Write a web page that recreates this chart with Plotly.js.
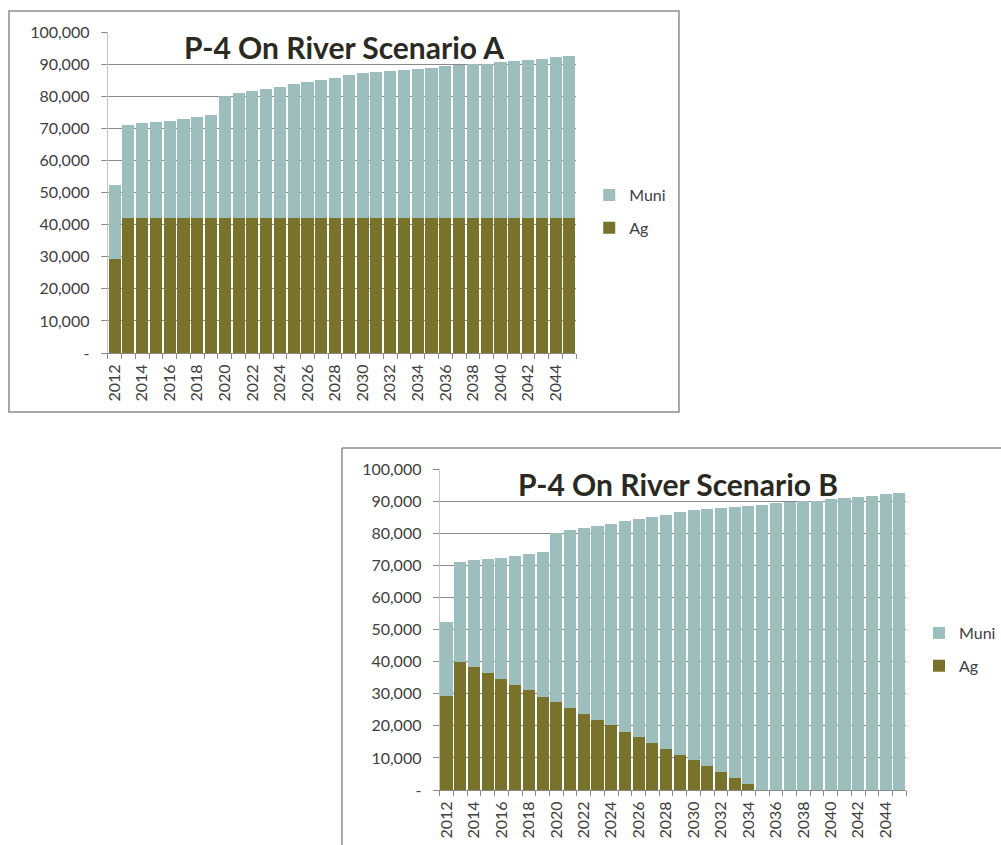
<!DOCTYPE html>
<html>
<head>
<meta charset="utf-8">
<script src="https://cdn.plot.ly/plotly-3.0.1.min.js"></script>
<style>html,body{margin:0;padding:0;background:#fff;}#chart{width:1001px;height:845px;}</style>
</head>
<body>
<div id="chart"></div>
<script>
// ---- data ----
const years = [2012,2013,2014,2015,2016,2017,2018,2019,2020,2021,2022,2023,2024,2025,2026,2027,2028,2029,2030,2031,2032,2033,2034,2035,2036,2037,2038,2039,2040,2041,2042,2043,2044,2045];
const tickYears = [2012,2014,2016,2018,2020,2022,2024,2026,2028,2030,2032,2034,2036,2038,2040,2042,2044];

const agA = [29300,42000,42000,42000,42000,42000,42000,42000,42000,42000,42000,42000,42000,42000,42000,42000,42000,42000,42000,42000,42000,42000,42000,42000,42000,42000,42000,42000,42000,42000,42000,42000,42000,42000];
const muniA = [23000,28900,29500,30000,30400,30800,31500,32000,38000,39000,39500,40300,41000,41800,42300,43100,43700,44600,45200,45500,45700,46200,46600,46900,47400,47700,48000,48100,48700,49100,49300,49600,50200,50500];

const agB = [29300,39900,38200,36300,34700,32600,31000,29100,27400,25400,23700,21800,20100,18100,16500,14600,12800,10900,9300,7400,5600,3700,1900,0,0,0,0,0,0,0,0,0,0,0];
const muniB = [23000,31000,33300,35700,37700,40200,42500,44900,52600,55600,57800,60500,62900,65700,67800,70500,72900,75700,77900,80100,82100,84500,86700,88900,89400,89700,90000,90100,90700,91100,91300,91600,92200,92500];

const yTickVals = [0,10000,20000,30000,40000,50000,60000,70000,80000,90000,100000];
const yTickText = ['-','10,000','20,000','30,000','40,000','50,000','60,000','70,000','80,000','90,000','100,000'];

const titleA = 'P-4 On River Scenario A';
const titleB = 'P-4 On River Scenario B';

// ---- styles ----
const W = 1001, H = 845;
const FONT = 'Lato, "Open Sans", sans-serif';
const TXT = '#404040';
const MUNI_C = '#9CBEBD';
const AG_C = '#78722A';
const px = v => v / W;
const py = v => 1 - v / H;

function xAxis(x0, x1, anchor) {
  return {
    domain: [px(x0), px(x1)], anchor: anchor,
    range: [2011.5, 2045.5], tickmode: 'array', tickvals: tickYears,
    ticktext: tickYears.map(String), tickangle: -90,
    ticks: '', showgrid: false, zeroline: false,
    showline: true, linecolor: '#8a8a8a', linewidth: 1,
    tickfont: {family: FONT, size: 16, color: TXT},
    ticklabelstandoff: 4,
    minor: {tickmode: 'linear', tick0: 2011.5, dtick: 1, ticks: 'outside', ticklen: 5, tickcolor: '#8a8a8a', tickwidth: 1, showgrid: false},
    fixedrange: true
  };
}
function yAxis(yTop, yBot, anchor) {
  return {
    domain: [py(yBot), py(yTop)], anchor: anchor,
    range: [0, 100000], tickmode: 'array', tickvals: yTickVals, ticktext: yTickText,
    ticks: 'outside', ticklen: 6, tickcolor: '#8a8a8a', tickwidth: 1,
    showgrid: true, gridcolor: '#8a8a8a', gridwidth: 1,
    zeroline: false, showline: true, linecolor: '#c4c4c4', linewidth: 1,
    tickfont: {family: FONT, size: 16, color: TXT},
    ticklabelstandoff: 8,
    fixedrange: true
  };
}

const traces = [
  {type: 'bar', x: years, y: agA, name: 'Ag', xaxis: 'x', yaxis: 'y', legend: 'legend', legendgroup: 'a1', legendrank: 2, marker: {color: AG_C}},
  {type: 'bar', x: years, y: muniA, name: 'Muni', xaxis: 'x', yaxis: 'y', legend: 'legend', legendgroup: 'a2', legendrank: 1, marker: {color: MUNI_C}},
  {type: 'bar', x: years, y: agB, name: 'Ag', xaxis: 'x2', yaxis: 'y2', legend: 'legend2', legendgroup: 'b1', legendrank: 2, marker: {color: AG_C}},
  {type: 'bar', x: years, y: muniB, name: 'Muni', xaxis: 'x2', yaxis: 'y2', legend: 'legend2', legendgroup: 'b2', legendrank: 1, marker: {color: MUNI_C}}
];

const legendBase = {
  traceorder: 'grouped', tracegroupgap: 9,
  font: {family: FONT, size: 16, color: TXT},
  bgcolor: 'rgba(0,0,0,0)', xanchor: 'left', yanchor: 'top',
  itemclick: false, itemdoubleclick: false
};

const layout = {
  width: W, height: H,
  margin: {l: 0, r: 0, t: 0, b: 0},
  paper_bgcolor: '#ffffff', plot_bgcolor: 'rgba(0,0,0,0)',
  barmode: 'stack', bargap: 0.12,
  showlegend: true,
  xaxis: xAxis(108, 578, 'y'),
  yaxis: yAxis(32, 353, 'x'),
  xaxis2: xAxis(441, 909, 'y2'),
  yaxis2: yAxis(469, 790, 'x2'),
  legend: Object.assign({}, legendBase, {x: px(591), y: py(178)}),
  legend2: Object.assign({}, legendBase, {x: px(922), y: py(616)}),
  annotations: [
    {text: '<b>' + titleA + '</b>', xref: 'paper', yref: 'paper', x: px(345), y: py(47), xanchor: 'center', yanchor: 'middle', showarrow: false, font: {family: FONT, size: 30, color: '#2b2a22'}},
    {text: '<b>' + titleB + '</b>', xref: 'paper', yref: 'paper', x: px(680), y: py(484), xanchor: 'center', yanchor: 'middle', showarrow: false, font: {family: FONT, size: 30, color: '#2b2a22'}}
  ],
  shapes: [
    {type: 'rect', xref: 'paper', yref: 'paper', x0: px(9), x1: px(681), y0: py(412), y1: py(11), line: {color: '#8c8c8c', width: 1.5}, fillcolor: 'rgba(0,0,0,0)', layer: 'below'},
    {type: 'line', xref: 'paper', yref: 'paper', x0: px(343), x1: 1.2, y0: py(448), y1: py(448), line: {color: '#8c8c8c', width: 1.5}, layer: 'below'},
    {type: 'line', xref: 'paper', yref: 'paper', x0: px(343), x1: px(343), y0: py(448), y1: -0.2, line: {color: '#8c8c8c', width: 1.5}, layer: 'below'}
  ]
};

Plotly.newPlot('chart', traces, layout, {displayModeBar: false, staticPlot: true});
</script>
</body>
</html>
